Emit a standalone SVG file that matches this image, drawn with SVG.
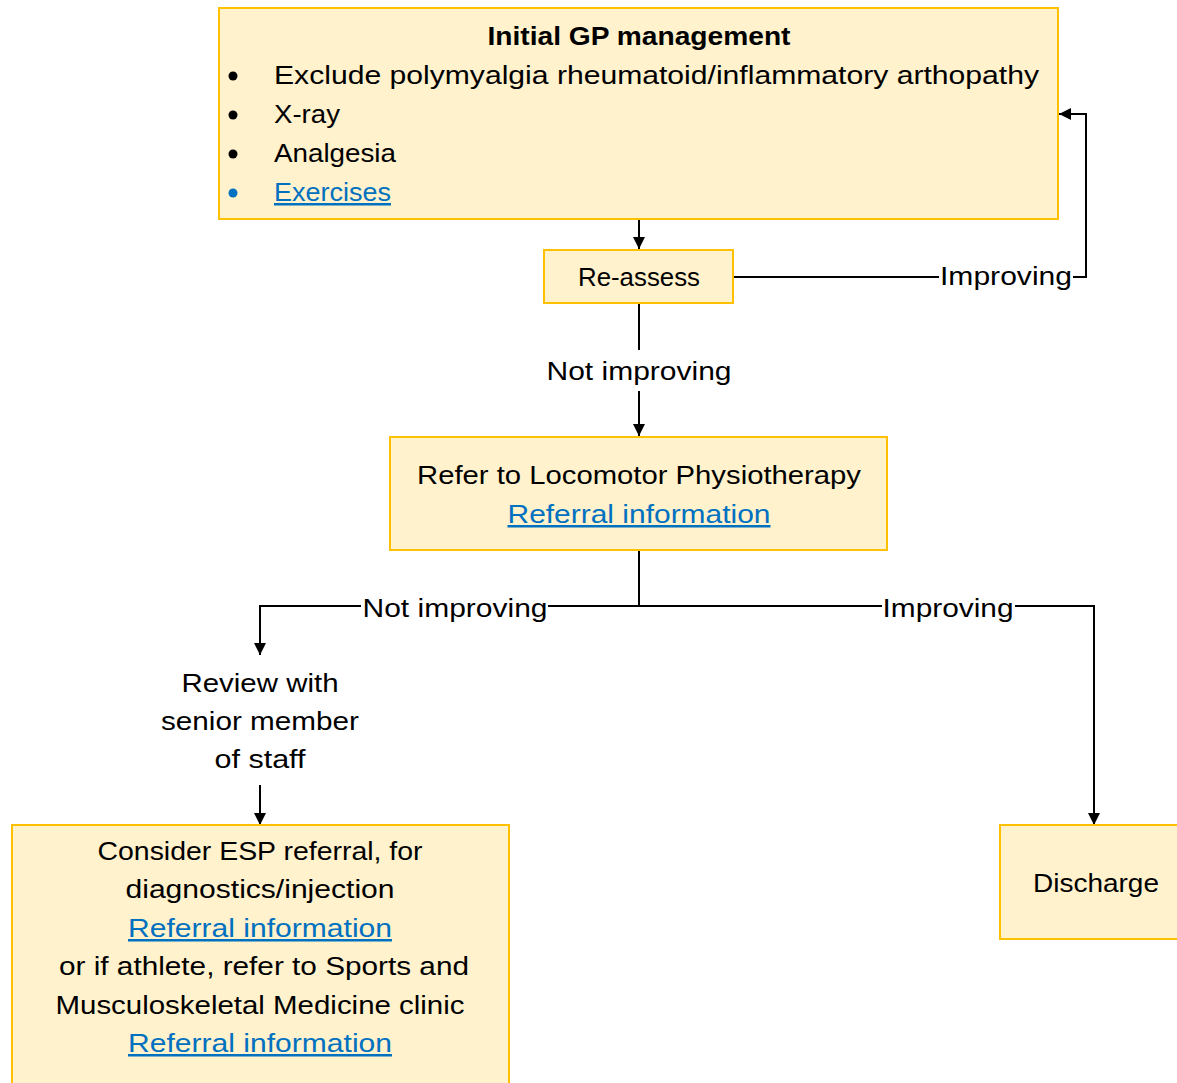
<svg xmlns="http://www.w3.org/2000/svg" width="1177" height="1083" viewBox="0 0 1177 1083">
<style>
.box{fill:#FFF2CC;stroke:#FFC000;stroke-width:2}
text{font-family:"Liberation Sans",Arial,sans-serif;font-size:25px;fill:#000}
.c{text-anchor:middle}
.b{font-weight:bold}
.link{fill:#0070C0;text-decoration:underline}
.ln{fill:none;stroke:#000;stroke-width:2}
.lbl{fill:#fff;stroke:none}
</style>
<defs>
<marker id="ah" viewBox="0 0 12 12" refX="12" refY="6" markerWidth="12" markerHeight="12" markerUnits="userSpaceOnUse" orient="auto">
<path d="M0,0 L12,6 L0,12 z" fill="#000"/>
</marker>
</defs>
<g id="connectors">
<path class="ln" d="M639,219 V249" marker-end="url(#ah)"/>
<path class="ln" d="M733,277 H939 M1073,277 H1086 V114 H1059" marker-end="url(#ah)"/>
<path class="ln" d="M639,303 V350 M639,391 V436" marker-end="url(#ah)"/>
<path class="ln" d="M639,550 V606 M639,606 H548 M361,606 H260 V655" marker-end="url(#ah)"/>
<path class="ln" d="M639,606 H882 M1015,606 H1094 V825" marker-end="url(#ah)"/>
<path class="ln" d="M260,785 V825" marker-end="url(#ah)"/>
<text x="1006" y="285" class="c" textLength="132" lengthAdjust="spacingAndGlyphs">Improving</text>
<text x="639" y="380" class="c" textLength="185" lengthAdjust="spacingAndGlyphs">Not improving</text>
<text x="455" y="617" class="c" textLength="185" lengthAdjust="spacingAndGlyphs">Not improving</text>
<text x="948" y="617" class="c" textLength="131" lengthAdjust="spacingAndGlyphs">Improving</text>
</g>
<g id="node-initial">
<rect class="box" x="219" y="8" width="839" height="211"/>
<text x="639" y="45" class="c b" textLength="303" lengthAdjust="spacingAndGlyphs">Initial GP management</text>
<circle cx="233" cy="76" r="4.5" fill="#000"/>
<circle cx="233" cy="115" r="4.5" fill="#000"/>
<circle cx="233" cy="154" r="4.5" fill="#000"/>
<circle cx="233" cy="193" r="4.5" fill="#0070C0"/>
<text x="274" y="84" textLength="765" lengthAdjust="spacingAndGlyphs">Exclude polymyalgia rheumatoid/inflammatory arthopathy</text>
<text x="274" y="123" textLength="66" lengthAdjust="spacingAndGlyphs">X-ray</text>
<text x="274" y="162" textLength="122" lengthAdjust="spacingAndGlyphs">Analgesia</text>
<text x="274" y="201" class="link" textLength="117" lengthAdjust="spacingAndGlyphs">Exercises</text>
</g>
<g id="node-reassess">
<rect class="box" x="544" y="250" width="189" height="53"/>
<text x="639" y="286" class="c" textLength="122" lengthAdjust="spacingAndGlyphs">Re-assess</text>
</g>
<g id="node-physio">
<rect class="box" x="390" y="437" width="497" height="113"/>
<text x="639" y="484" class="c" textLength="444" lengthAdjust="spacingAndGlyphs">Refer to Locomotor Physiotherapy</text>
<text x="639" y="523" class="c link" textLength="263" lengthAdjust="spacingAndGlyphs">Referral information</text>
</g>
<g id="node-review">
<text x="260" y="692" class="c" textLength="157" lengthAdjust="spacingAndGlyphs">Review with</text>
<text x="260" y="730" class="c" textLength="198" lengthAdjust="spacingAndGlyphs">senior member</text>
<text x="260" y="768" class="c" textLength="91" lengthAdjust="spacingAndGlyphs">of staff</text>
</g>
<g id="node-esp">
<rect class="box" x="12" y="825" width="497" height="262"/>
<text x="260" y="860" class="c" textLength="325" lengthAdjust="spacingAndGlyphs">Consider ESP referral, for</text>
<text x="260" y="898" class="c" textLength="269" lengthAdjust="spacingAndGlyphs">diagnostics/injection</text>
<text x="260" y="937" class="c link" textLength="264" lengthAdjust="spacingAndGlyphs">Referral information</text>
<text x="264" y="975" class="c" textLength="410" lengthAdjust="spacingAndGlyphs">or if athlete, refer to Sports and</text>
<text x="260" y="1014" class="c" textLength="409" lengthAdjust="spacingAndGlyphs">Musculoskeletal Medicine clinic</text>
<text x="260" y="1052" class="c link" textLength="264" lengthAdjust="spacingAndGlyphs">Referral information</text>
</g>
<g id="node-discharge">
<rect class="box" x="1000" y="825" width="190" height="114"/>
<text x="1096" y="892" class="c" textLength="126" lengthAdjust="spacingAndGlyphs">Discharge</text>
</g>
</svg>
